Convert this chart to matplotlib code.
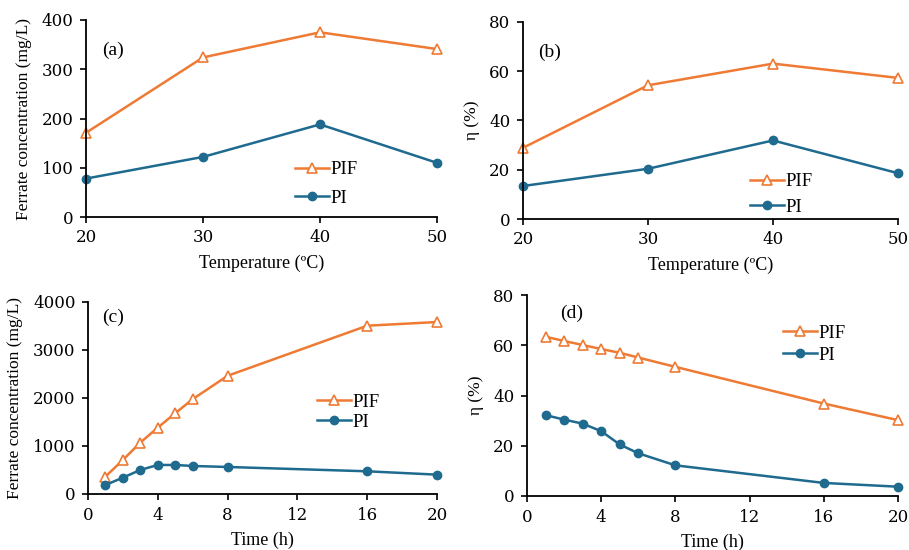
import matplotlib.pyplot as plt
import numpy as np

plt.rcParams['font.family'] = ['Liberation Serif', 'DejaVu Serif']

# data
temp = [20, 30, 40, 50]
conc_pif_T = [171, 324, 375, 341]
conc_pi_T = [78, 122, 188, 110]
eta_pif_T = [28.9, 54.3, 63.1, 57.3]
eta_pi_T = [13.4, 20.4, 31.9, 18.6]

time_h = [1, 2, 3, 4, 5, 6, 8, 16, 20]
conc_pif_t = [362, 710, 1071, 1384, 1683, 1976, 2463, 3506, 3583]
conc_pi_t = [188, 341, 501, 605, 605, 584, 563, 473, 403]
eta_pif_t = [63.4, 61.7, 60.1, 58.5, 57.0, 55.1, 51.4, 36.8, 30.2]
eta_pi_t = [32.2, 30.4, 28.8, 25.8, 20.5, 17.0, 12.2, 5.2, 3.7]

orange = '#EE7A34'
blue = '#1F6A8F'

fig = plt.figure(figsize=(9.09, 5.5), dpi=100)
W, H = 909, 550
def box(l, t, r, b):
    return [l / W, 1 - b / H, (r - l) / W, (b - t) / H]

panels = [
    dict(rect=box(86, 20, 437, 217), x=temp, pif=conc_pif_T, pi=conc_pi_T,
         xlim=(20, 50), xt=[20, 30, 40, 50], ylim=(0, 400), yt=[0, 100, 200, 300, 400],
         xl='Temperature (\u00baC)', yl='Ferrate concentration (mg/L)', tag='(a)',
         leg=(0.595, 0.168), sp=0.6, tagpos=(0.046, 0.848)),
    dict(rect=box(523, 22, 898, 219), x=temp, pif=eta_pif_T, pi=eta_pi_T,
         xlim=(20, 50), xt=[20, 30, 40, 50], ylim=(0, 80), yt=[0, 20, 40, 60, 80],
         xl='Temperature (\u00baC)', yl='\u03b7 (%)', tag='(b)',
         leg=(0.605, 0.124), sp=0.45, tagpos=(0.04, 0.848)),
    dict(rect=box(88, 302, 437, 494), x=time_h, pif=conc_pif_t, pi=conc_pi_t,
         xlim=(0, 20), xt=[0, 4, 8, 12, 16, 20], ylim=(0, 4000), yt=[0, 1000, 2000, 3000, 4000],
         xl='Time (h)', yl='Ferrate concentration (mg/L)', tag='(c)',
         leg=(0.656, 0.427), sp=0.15, tagpos=(0.04, 0.92)),
    dict(rect=box(527, 295, 898, 496), x=time_h, pif=eta_pif_t, pi=eta_pi_t,
         xlim=(0, 20), xt=[0, 4, 8, 12, 16, 20], ylim=(0, 80), yt=[0, 20, 40, 60, 80],
         xl='Time (h)', yl='\u03b7 (%)', tag='(d)',
         leg=(0.69, 0.756), sp=0.27, tagpos=(0.089, 0.91)),
]

for p in panels:
    ax = fig.add_axes(p['rect'])
    ax.plot(p['x'], p['pif'], color=orange, lw=1.8, marker='^', ms=7.5,
            mfc='white', mec=orange, mew=1.2, label='PIF', clip_on=False)
    ax.plot(p['x'], p['pi'], color=blue, lw=1.8, marker='o', ms=6,
            mfc=blue, mec=blue, label='PI', clip_on=False)
    ax.set_xlim(*p['xlim'])
    ax.set_ylim(*p['ylim'])
    ax.set_xticks(p['xt'])
    ax.set_yticks(p['yt'])
    for s in ['top', 'right']:
        ax.spines[s].set_visible(False)
    for s in ['left', 'bottom']:
        ax.spines[s].set_linewidth(1.3)
    ax.tick_params(direction='out', length=4, width=1.2, labelsize=12, colors='black', pad=5)
    for lab in ax.get_xticklabels() + ax.get_yticklabels():
        lab.set_fontfamily('DejaVu Serif')
    ax.set_xlabel(p['xl'], fontsize=13, labelpad=6)
    ax.set_ylabel(p['yl'], fontsize=12.5, labelpad=7)
    ax.text(p['tagpos'][0], p['tagpos'][1], p['tag'], transform=ax.transAxes,
            fontsize=14, va='center')
    ax.legend(loc='center left', bbox_to_anchor=p['leg'], frameon=False, fontsize=13.5,
              handlelength=1.8, handletextpad=0.1, labelspacing=p['sp'],
              borderaxespad=0, borderpad=0)

fig.savefig('out.png', dpi=100)
